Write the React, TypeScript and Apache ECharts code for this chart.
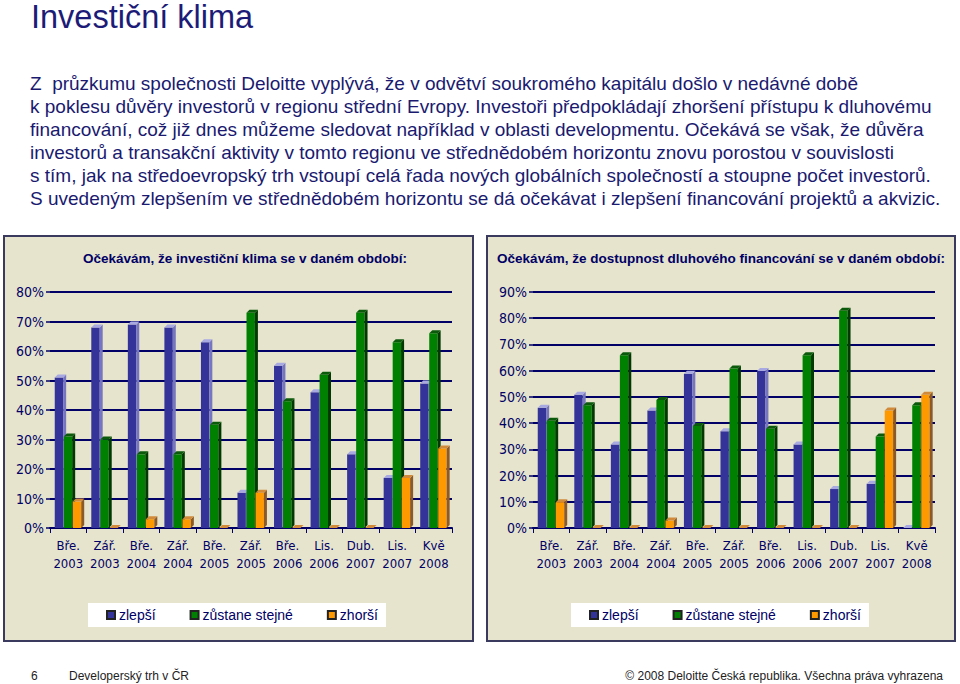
import React, { useEffect, useRef } from "react";
import * as echarts from "echarts";

const categories = [
  "Bře.\n2003", "Zář.\n2003", "Bře.\n2004", "Zář.\n2004", "Bře.\n2005", "Zář.\n2005",
  "Bře.\n2006", "Lis.\n2006", "Dub.\n2007", "Lis.\n2007", "Kvě\n2008",
];
const seriesNames = ["zlepší", "zůstane stejné", "zhorší"];

// Očekávám, že investiční klima se v daném období:
const klimaZlepsi = [52, 69, 70, 69, 64, 13, 56, 47, 26, 18, 50];
const klimaStejne = [32, 31, 26, 26, 36, 74, 44, 53, 74, 64, 67];
const klimaZhorsi = [10, 0, 4, 4, 0, 13, 0, 0, 0, 18, 28];

// Očekávám, že dostupnost dluhového financování se v daném období:
const dluhZlepsi = [47, 52, 33, 46, 60, 38, 61, 33, 16, 18, 0];
const dluhStejne = [42, 48, 67, 50, 40, 62, 39, 67, 84, 36, 48];
const dluhZhorsi = [11, 0, 0, 4, 0, 0, 0, 0, 0, 46, 52];

const leftTicks = { min: 0, max: 80, interval: 10 };
const rightTicks = { min: 0, max: 90, interval: 10 };

const title = "Investiční klima";
const paragraph = [
  "Z  průzkumu společnosti Deloitte vyplývá, že v odvětví soukromého kapitálu došlo v nedávné době",
  "k poklesu důvěry investorů v regionu střední Evropy. Investoři předpokládají zhoršení přístupu k dluhovému",
  "financování, což již dnes můžeme sledovat například v oblasti developmentu. Očekává se však, že důvěra",
  "investorů a transakční aktivity v tomto regionu ve střednědobém horizontu znovu porostou v souvislosti",
  "s tím, jak na středoevropský trh vstoupí celá řada nových globálních společností a stoupne počet investorů.",
  "S uvedeným zlepšením ve střednědobém horizontu se dá očekávat i zlepšení financování projektů a akvizic.",
];
const leftTitle = "Očekávám, že investiční klima se v daném období:";
const rightTitle = "Očekávám, že dostupnost dluhového financování se v daném období:";
const footerLeftNum = "6";
const footerLeft = "Developerský trh v ČR";
const footerRight = "© 2008 Deloitte Česká republika. Všechna práva vyhrazena";

const faceColors = [
  { front: "#333399", top: "#a8a8e2", side: "#7676c0" },
  { front: "#008000", top: "#0b5a0b", side: "#003a00" },
  { front: "#ff9900", top: "#d08a3a", side: "#8c5a28" },
];

const NAVY = "#000066";
const AXIS_FONT = "'DejaVu Sans Condensed', 'DejaVu Sans', sans-serif";
const ARIAL = "'Liberation Sans', Arial, sans-serif";

function barRenderer(s: number) {
  const c = faceColors[s];
  return (params: any, api: any) => {
    const i = api.value(0);
    const v = api.value(1);
    const top = api.coord([i, v]);
    const base = api.coord([i, 0]);
    const band = api.size([1, 0])[0];
    const w = band * 0.23;
    const pitch = band * 0.247;
    const dx = 3, dy = 3;
    const x = base[0] - band * 0.37 + s * pitch;
    const y0 = base[1];
    const yf = Math.min(top[1] + dy, y0);
    return {
      type: "group",
      children: [
        {
          type: "rect",
          shape: { x, y: yf, width: w, height: y0 - yf },
          style: { fill: c.front },
        },
        {
          type: "polygon",
          shape: { points: [[x + w, yf], [x + w + dx, yf - dy], [x + w + dx, y0 - dy], [x + w, y0]] },
          style: { fill: c.side },
        },
        {
          type: "polygon",
          shape: { points: [[x, yf], [x + dx, yf - dy], [x + w + dx, yf - dy], [x + w, yf]] },
          style: { fill: c.top },
        },
      ],
    };
  };
}

function makeSeries(values: number[], s: number, axisIndex: number) {
  return {
    type: "custom",
    name: seriesNames[s],
    xAxisIndex: axisIndex,
    yAxisIndex: axisIndex,
    renderItem: barRenderer(s),
    itemStyle: { color: faceColors[s].front, borderColor: "#222", borderWidth: 1 },
    encode: { x: 0, y: 1 },
    data: values.map((v, i) => [i, v]),
    z: 3,
  };
}

function xAxisCfg(gridIndex: number) {
  return {
    type: "category",
    gridIndex,
    data: categories,
    axisLine: { show: true, lineStyle: { color: NAVY, width: 2 } },
    axisTick: { show: true, alignWithLabel: false, length: 5, lineStyle: { color: NAVY, width: 1 } },
    axisLabel: {
      color: NAVY,
      fontFamily: AXIS_FONT,
      fontSize: 13,
      lineHeight: 18,
      margin: 8,
      interval: 0,
    },
    splitLine: { show: false },
  };
}

function yAxisCfg(gridIndex: number, t: { min: number; max: number; interval: number }) {
  return {
    type: "value",
    gridIndex,
    min: t.min,
    max: t.max,
    interval: t.interval,
    axisLine: { show: false },
    axisTick: { show: true, length: 4, lineStyle: { color: NAVY, width: 1.5 } },
    axisLabel: {
      color: NAVY,
      fontFamily: AXIS_FONT,
      fontSize: 14,
      margin: 6,
      formatter: "{value}%",
    },
    splitLine: { show: true, lineStyle: { color: NAVY, width: 2 } },
  };
}

function legendCfg(left: number) {
  return {
    data: seriesNames,
    left,
    top: 603,
    orient: "horizontal",
    backgroundColor: "#ffffff",
    padding: [5, 8, 5, 18],
    itemGap: 34,
    itemWidth: 8,
    itemHeight: 8,
    icon: "rect",
    selectedMode: false,
    textStyle: { color: NAVY, fontFamily: ARIAL, fontSize: 14, padding: [0, 0, 0, -1] },
  };
}

export default function App() {
  const ref = useRef<HTMLDivElement>(null);
  useEffect(() => {
    if (!ref.current) return;
    const chart = echarts.init(ref.current, undefined, { renderer: "svg" });
    const option: any = {
      animation: false,
      backgroundColor: "#ffffff",
      grid: [
        { left: 50, right: 960 - 452, top: 292, bottom: 684 - 528, containLabel: false },
        { left: 533, right: 960 - 935, top: 292, bottom: 684 - 528, containLabel: false },
      ],
      xAxis: [xAxisCfg(0), xAxisCfg(1)],
      yAxis: [yAxisCfg(0, leftTicks), yAxisCfg(1, rightTicks)],
      legend: [legendCfg(88), legendCfg(571)],
      series: [
        makeSeries(klimaZlepsi, 0, 0),
        makeSeries(klimaStejne, 1, 0),
        makeSeries(klimaZhorsi, 2, 0),
        makeSeries(dluhZlepsi, 0, 1),
        makeSeries(dluhStejne, 1, 1),
        makeSeries(dluhZhorsi, 2, 1),
      ],
      graphic: [
        {
          type: "rect",
          z: -10,
          shape: { x: 4, y: 236, width: 469, height: 405 },
          style: { fill: "#e6e4cd", stroke: "#3a3a5e", lineWidth: 2 },
        },
        {
          type: "rect",
          z: -10,
          shape: { x: 487, y: 236, width: 468, height: 405 },
          style: { fill: "#e6e4cd", stroke: "#3a3a5e", lineWidth: 2 },
        },
        {
          type: "text",
          x: 31,
          y: 17,
          style: {
            text: title,
            fill: "#1c1c78",
            font: `32.5px ${ARIAL}`,
            verticalAlign: "middle",
            align: "left",
          },
        },
        {
          type: "text",
          x: 30,
          y: 72,
          style: {
            text: paragraph.join("\n"),
            fill: "#1a1a70",
            font: `19px ${ARIAL}`,
            lineHeight: 23,
            verticalAlign: "top",
            align: "left",
          },
        },
        {
          type: "text",
          x: 245,
          y: 258,
          style: {
            text: leftTitle,
            fill: NAVY,
            font: `bold 13.5px ${ARIAL}`,
            align: "center",
            verticalAlign: "middle",
          },
        },
        {
          type: "text",
          x: 721,
          y: 258,
          style: {
            text: rightTitle,
            fill: NAVY,
            font: `bold 13.5px ${ARIAL}`,
            align: "center",
            verticalAlign: "middle",
          },
        },
        {
          type: "text",
          x: 31,
          y: 676,
          style: { text: footerLeftNum, fill: "#222", font: `12px ${ARIAL}`, verticalAlign: "middle" },
        },
        {
          type: "text",
          x: 69,
          y: 676,
          style: { text: footerLeft, fill: "#222", font: `12px ${ARIAL}`, verticalAlign: "middle" },
        },
        {
          type: "text",
          x: 943,
          y: 676,
          style: {
            text: footerRight,
            fill: "#222",
            font: `12px ${ARIAL}`,
            align: "right",
            verticalAlign: "middle",
          },
        },
      ],
    };
    chart.setOption(option);
    return () => chart.dispose();
  }, []);
  return (
    <div
      ref={ref}
      style={{ position: "fixed", left: 0, top: 0, width: 960, height: 684, background: "#fff" }}
    />
  );
}
